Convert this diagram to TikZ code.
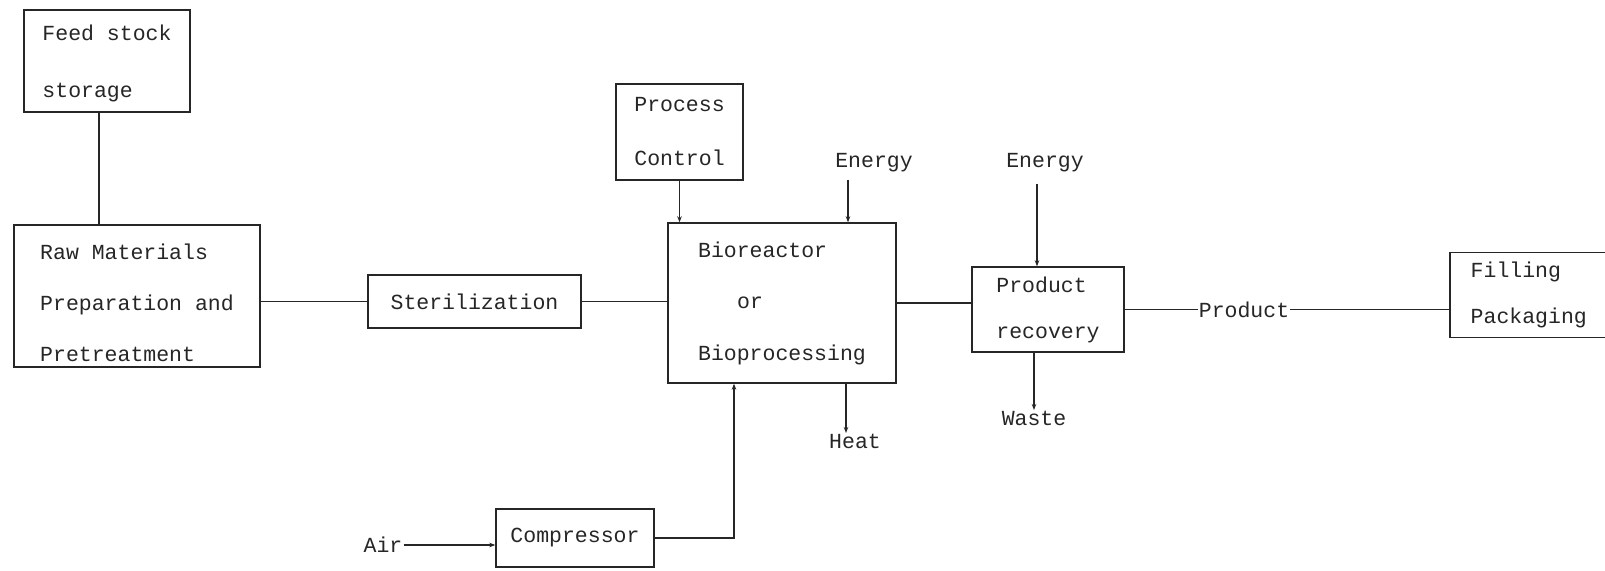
\documentclass[tikz,border=0pt]{standalone}
\usepackage{fontspec}
\setmonofont{Liberation Mono}
\usetikzlibrary{arrows.meta}
\begin{document}
\begin{tikzpicture}[x=1pt,y=-1pt,
  ink/.style={draw=black!85, line width=1.4pt},
  box/.style={ink, rectangle, inner sep=0pt, align=left, text=black!85,
    font=\ttfamily\fontsize{21.5}{#1}\selectfont},
  box/.default=26,
  lbl/.style={inner sep=1pt, text=black!85, font=\ttfamily\fontsize{21.5}{26}\selectfont},
  arr/.style={ink, -{Stealth[length=6pt,width=4.5pt]}}]
\useasboundingbox (0,0) rectangle (1605,570);

% process blocks
\node[box=57, minimum width=166, minimum height=102] (feed) at (107,61)
  {\rule{0pt}{20pt}Feed stock\\storage};
\node[box=51, minimum width=246, minimum height=142] (raw) at (137,296)
  {\rule{0pt}{29pt}Raw Materials\\Preparation and\\Pretreatment};
\node[box, minimum width=213, minimum height=53] (ster) at (474.5,301.5)
  {Sterilization};
\node[box=51.5, minimum width=228, minimum height=160] (bio) at (782,303)
  {Bioreactor\\\hspace*{39pt}or\\Bioprocessing};
\node[box=54, minimum width=127, minimum height=96] (pc) at (679.5,132)
  {Process\\Control};
\node[box=46, minimum width=152, minimum height=85] (rec) at (1048,309.5)
  {Product\\recovery};
\node[box, minimum width=158, minimum height=58] (comp) at (575,538)
  {Compressor};
% filling box, open towards the right-hand edge
\node[box=46, draw=none, anchor=west, inner xsep=20pt, text width=140pt,
  minimum height=84] (fill) at (1450,295) {Filling\\Packaging};
\draw[ink] ([xshift=160pt]fill.north west) -- (fill.north west)
  -- (fill.south west) -- ([xshift=160pt]fill.south west);

% stream labels
\node[lbl] (e1) at (874,163) {Energy};
\node[lbl] (e2) at (1045,163) {Energy};
\node[lbl, anchor=north] (heat) at (855,433) {Heat};
\node[lbl, anchor=north] (waste) at (1034,410) {Waste};
\node[lbl] (air) at (383,545) {Air};
\node[lbl] (prod) at (1244,309.5) {Product};

% connectors
\draw[ink] ([xshift=-8pt]feed.south) -- ([xshift=-8pt]feed.south |- raw.north);
\draw[ink] (ster.west -| raw.east) -- (ster.west);
\draw[ink] (ster.east) -- (ster.east -| bio.west);
\draw[arr] (pc.south) -- (pc.south |- bio.north);
\draw[arr, shorten <=6pt] ([xshift=-26pt]e1.south) -- ([xshift=-26pt]e1.south |- bio.north);
\draw[arr] ([xshift=-9pt]heat.north |- bio.south) -- ([xshift=-9pt]heat.north);
\draw[ink] (bio.east) -- (bio.east -| rec.west);
\draw[arr, shorten <=10pt] ([xshift=-8pt]e2.south) -- ([xshift=-8pt]e2.south |- rec.north);
\draw[arr] (waste.north |- rec.south) -- (waste.north);
\draw[ink] (rec.east) -- (prod.west);
\draw[ink] (prod.east) -- (fill.west |- prod.east);
\draw[arr] (air.east) -- (comp.west |- air.east);
\draw[arr] (comp.east) -| ([xshift=-48pt]bio.south);
\end{tikzpicture}
\end{document}
